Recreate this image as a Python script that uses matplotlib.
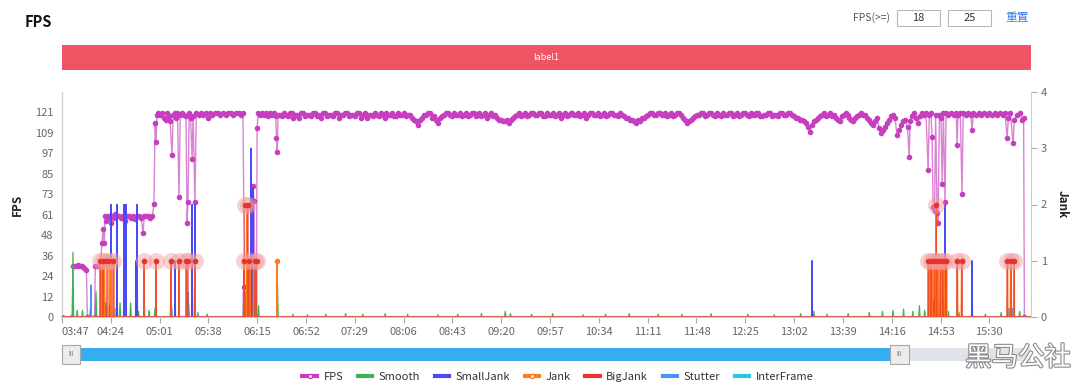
import matplotlib
matplotlib.use("Agg")
import matplotlib.pyplot as plt
import matplotlib.patheffects as pe
from matplotlib.lines import Line2D
from matplotlib.patches import Rectangle

plt.rcParams['font.family'] = ['Noto Sans CJK SC', 'DejaVu Sans']

# ---- data (x = minutes since 03:47) ----
T_END = 734.6
time_labels = ['03:47', '04:24', '05:01', '05:38', '06:15', '06:52', '07:29', '08:06',
               '08:43', '09:20', '09:57', '10:34', '11:11', '11:48', '12:25', '13:02',
               '13:39', '14:16', '14:53', '15:30']
time_ticks = [37 * i for i in range(len(time_labels))]

fps_tick_labels = ['0', '12', '24', '36', '48', '61', '73', '85', '97', '109', '121']
FPS_MAX = 133.5

fps_early_t = [0, 7.8, 8.3, 9.5, 11, 12.5, 14, 15.5, 17, 18.5, 19.3, 24.7, 25.2, 26.5, 27.8, 29,
               30.3, 31.2, 32, 32.8, 33.6, 34.5, 35.5, 36.5, 37.5, 38.5, 39.5, 40.5, 42, 43.5,
               45, 46.5, 48, 49.5, 51, 52.5, 54, 55.5, 57, 58.5, 60, 61.4, 62.5, 64, 65.5, 67,
               68.5, 69.7, 70.6, 71.3, 72, 73, 74.5, 76, 77.5, 78.5, 79.5, 81, 82, 83.4, 84.3,
               85.5, 86.7, 87.5, 88.7, 89.6, 91, 92.5, 94, 94.8, 95.5, 96.4, 97.5, 98.6, 99.4,
               100.8, 101.8, 103.5, 105, 107, 109, 110.5, 112, 114, 116, 118, 120, 122, 124,
               126, 128, 130, 132, 134, 136, 137.2, 138.3, 139.3, 144.2, 144.8, 145.6, 146.4,
               147.4, 147.9, 148.7, 150, 151.5, 153, 154.5, 156, 157.5, 159, 160.5, 162, 162.6,
               163.2, 163.8]
fps_early_v = [0, 0, 30, 30, 30, 31, 30, 30, 29, 28, 0, 0, 30, 30, 30, 30,
               44, 52, 44, 60, 57, 60, 59, 60, 56, 60, 59, 61, 60, 60,
               59, 60, 57, 60, 60, 59, 60, 58, 60, 60, 59, 50, 60, 60, 60, 59,
               60, 67, 115, 104, 120, 121, 120, 121, 118, 117, 121, 119, 116, 96, 120,
               121, 118, 121, 71, 120, 121, 120, 119, 56, 68, 121, 118, 94, 119,
               68, 121, 120, 121, 120, 121, 118, 121, 120, 121, 121, 120, 121, 120,
               121, 121, 120, 121, 121, 120, 121, 18, 0, 0, 78, 69, 0,
               0, 112, 121, 120, 121, 120, 121, 119, 121, 120, 121, 119, 106,
               98, 120]

# steady part, two interleaved sample sets
fps_mid_t = list(range(165, 640, 3))
fps_mid_v = [120, 121, 119, 121, 120, 118, 121, 120, 119, 121, 120, 121, 119, 120, 121, 118,
             120, 121, 120, 119, 121, 120, 118, 120, 121, 119, 120, 121, 120, 119, 121, 120,
             119, 120, 117, 114, 118, 120, 121, 119, 115, 119, 121, 120, 121, 120, 119, 121,
             120, 121, 120, 119, 121, 120, 119, 118, 117, 116, 115, 118, 120, 119, 121, 120,
             121, 120, 121, 119, 120, 121, 120, 118, 121, 120, 121, 120, 119, 121, 120, 121,
             120, 119, 121, 120, 121, 120, 121, 119, 118, 117, 115, 116, 118, 120, 121, 120,
             121, 120, 119, 121, 120, 121, 118, 115, 117, 119, 120, 121, 120, 121, 119, 120,
             121, 120, 121, 120, 119, 121, 120, 121, 120, 121, 119, 120, 121, 120, 119, 121,
             120, 121, 119, 118, 117, 115, 110, 116, 118, 120, 119, 121, 120, 117, 119, 121,
             118, 116, 119, 121, 120, 117, 114, 118, 109, 113, 117, 120, 108, 114, 117]
fps_mid2_t = [166.5 + 3 * i for i in range(158)]
fps_mid2_v = [119, 120, 121, 118, 120, 121, 119, 120, 121, 119, 118, 121, 120, 119, 121, 120,
              121, 119, 120, 121, 118, 121, 120, 119, 120, 121, 118, 120, 121, 119, 120, 121,
              120, 118, 116, 117, 120, 121, 118, 117, 118, 120, 121, 119, 120, 121, 120, 119,
              121, 119, 121, 120, 118, 121, 120, 117, 116, 117, 117, 119, 121, 120, 119, 121,
              120, 121, 119, 121, 120, 119, 121, 120, 119, 121, 120, 121, 120, 118, 121, 120,
              121, 120, 119, 121, 120, 119, 120, 118, 117, 116, 117, 118, 119, 121, 120, 121,
              120, 121, 120, 119, 121, 120, 117, 116, 118, 120, 121, 119, 121, 120, 121, 119,
              120, 121, 119, 121, 120, 121, 119, 120, 121, 119, 120, 121, 119, 120, 121, 120,
              121, 120, 118, 117, 116, 113, 114, 117, 119, 121, 120, 119, 118, 116, 120, 120,
              117, 118, 120, 120, 118, 115, 116, 112, 111, 115, 119, 118, 111, 116]

fps_late_t = [641, 642.2, 643, 644.5, 646, 647.5, 649, 650.5, 652, 653.5, 655, 656.6, 657.5,
              658.8, 659.6, 660.4, 661.5, 662.3, 663.4, 664.1, 665.2, 666.4, 667.2, 668.2,
              669.4, 670.2, 672, 674, 676, 678, 678.5, 679.3, 681, 682.3, 683.2, 685, 687,
              689, 689.9, 691, 693, 695, 697, 699, 701, 703, 705, 707, 709, 711, 713, 715,
              716.5, 717.5, 719, 721, 722, 724, 726, 727.8, 729, 729.6]
fps_late_v = [113, 95, 116, 119, 121, 118, 115, 119, 121, 120, 121, 87, 120,
              121, 107, 65, 63, 120, 62, 56, 120, 118, 79, 121,
              68, 121, 120, 121, 120, 121, 102, 120, 121, 73, 121, 120, 121,
              120, 111, 121, 120, 121, 120, 121, 120, 121, 120, 121, 120, 121, 120, 121,
              106, 118, 121, 103, 117, 120, 121, 117, 118, 0]

smooth_t = [8.3, 11.5, 15.5, 21.5, 25.8, 30, 34, 44, 52, 58, 66, 70.5, 83, 96, 103, 110,
            138.8, 140.5, 146.8, 149, 163.4, 175, 186, 200, 215, 228, 245, 262, 285, 300,
            318, 336, 340, 356, 372, 395, 412, 430, 452, 470, 492, 520, 540, 560, 570, 580,
            596, 612, 622, 630, 638, 645, 650, 654, 658, 662, 668, 672, 680, 690, 700, 712,
            718, 726]
smooth_v = [1.15, 0.12, 0.12, 0.15, 0.45, 0.2, 0.2, 0.25, 0.25, 0.1, 0.12, 0.15, 0.2, 0.25,
            0.08, 0.05, 0.45, 0.5, 0.3, 0.2, 0.57, 0.05, 0.04, 0.05, 0.06, 0.05, 0.06, 0.05,
            0.04, 0.05, 0.06, 0.1, 0.06, 0.05, 0.06, 0.04, 0.05, 0.06, 0.05, 0.05, 0.06, 0.05,
            0.04, 0.06, 0.1, 0.05, 0.06, 0.08, 0.1, 0.12, 0.14, 0.1, 0.2, 0.12, 0.3, 0.35,
            0.3, 0.1, 0.08, 0.06, 0.05, 0.08, 0.15, 0.1]

small_t = [30.3, 31.8, 37.1, 41.7, 47.0, 48.5, 56.1, 56.9, 82.6, 85.7, 98.6, 100.8,
           142.6, 143.3, 144.8, 568.6, 660.0, 666.8, 669.4, 689.9]
small_v = [1, 1, 2, 2, 2, 2, 1, 2, 1, 1, 2, 2, 1, 3, 2.3, 1, 0.3, 0.5, 2, 1]

jank_t = [29.3, 30.5, 32.0, 34.6, 37.0, 39.2, 62.2, 71.3, 82.6, 88.7, 94.5, 100.8, 138.0,
          140.4, 141.4, 142.5, 145.2, 146.8, 163.0, 656.9, 657.9, 659.5, 661.5, 662.5,
          664.4, 666.2, 667.4, 669.0, 670.6, 678.8, 682.0, 716.8, 719.2, 721.6]
jank_v = [1, 1, 1, 1, 1, 1, 1, 1, 1, 1, 1, 1, 1,
          2, 1, 1, 1, 1, 1, 1, 1, 1, 1, 2,
          1, 1, 1, 1, 1, 1, 1, 1, 1, 1]

big_t = [28.8, 31.1, 33.6, 36.0, 38.5, 62.2, 71.3, 82.6, 88.7, 94.0, 95.5, 100.8, 137.6,
         138.4, 141.0, 141.7, 146.3, 147.6, 656.6, 658.8, 661.1, 662.9, 663.6, 665.7, 667.9,
         670.2, 678.5, 682.3, 716.5, 719.5, 722.0]
big_v = [1, 1, 1, 1, 1, 1, 1, 1, 1, 1, 1, 1, 1,
         2, 2, 1, 1, 1, 1, 1, 1, 2, 1, 1, 1,
         1, 1, 1, 1, 1, 1]

stutter_t = [22.0, 30.0, 33.0, 36.5, 40.0, 56.0, 62.4, 83.0, 95.5, 98.6, 137.6, 139.0,
             141.0, 657.5, 660.5, 663.0, 666.0, 669.0, 717.0, 720.5]
stutter_v = [0.57, 0.3, 0.25, 0.2, 0.15, 0.2, 0.1, 0.2, 0.44, 0.43, 0.45, 0.3,
             0.2, 0.25, 0.3, 0.22, 0.28, 0.2, 0.15, 0.15]

interframe_t = [0, T_END]
interframe_v = [0, 0]

zoom_start, zoom_end = 0, 634


def spikes(ts, vs, w=0.3):
    xs, ys = [0], [0]
    for t, v in zip(ts, vs):
        xs += [t - w, t, t + w]
        ys += [0, v, 0]
    xs.append(T_END)
    ys.append(0)
    return xs, ys


fps_pts = sorted(zip(fps_early_t + fps_mid_t + fps_mid2_t + fps_late_t,
                     fps_early_v + fps_mid_v + fps_mid2_v + fps_late_v))
fps_t = [p[0] for p in fps_pts]
fps_v = [p[1] for p in fps_pts]

# colours
c_fps = '#c63fbf'
c_smooth = '#3fb34f'
c_small = '#4b4bf5'
c_jank = '#ff7a1f'
c_big = '#e8322e'
c_stutter = '#4f8ff7'
c_inter = '#2bc8e0'
grey = '#666666'

W, H = 1080, 390
fig = plt.figure(figsize=(W / 100, H / 100), dpi=100)


def fx(px):
    return px / W


def fy(py):
    return 1 - py / H


# header
fig.text(fx(25), fy(22), 'FPS', fontsize=10.5, fontweight='bold', color='#111', va='center')
fig.text(fx(890), fy(18), 'FPS(>=)', fontsize=7.5, color='#555', ha='right', va='center')
for x0, val in [(897, '18'), (948, '25')]:
    fig.patches.append(Rectangle((fx(x0), fy(26)), fx(43), 16 / H, transform=fig.transFigure,
                                 facecolor='white', edgecolor='#b8b8b8', lw=0.8))
    fig.text(fx(x0 + 21.5), fy(18), val, fontsize=8, color='#333', ha='center', va='center')
fig.text(fx(1005), fy(18), '重置', fontsize=8.5, color='#3b7cf5', va='center')

fig.patches.append(Rectangle((fx(62), fy(70)), fx(969), 25 / H, transform=fig.transFigure,
                             facecolor='#ed5565', edgecolor='none'))
fig.text(fx(546), fy(57.5), 'label1', fontsize=6.5, color='white', ha='center', va='center')

# main chart
ax = fig.add_axes([fx(62), fy(317), fx(969), 225 / H])
ax2 = ax.twinx()

ax.plot(fps_t, fps_v, color='#d983d3', lw=1.0, marker='o', ms=3.0, mfc=c_fps, mec=c_fps,
        zorder=3)
ax.set_xlim(0, T_END)
ax.set_ylim(0, FPS_MAX)
ax.set_yticks([FPS_MAX / 11 * i for i in range(len(fps_tick_labels))])
ax.set_yticklabels(fps_tick_labels)
ax.set_ylabel('FPS', fontsize=8.5, fontweight='bold', color='#222', labelpad=8)
ax.set_xticks(time_ticks)
ax.set_xticklabels(time_labels)
ax.get_xticklabels()[0].set_horizontalalignment('left')
ax.tick_params(axis='y', length=0, labelsize=8, colors=grey, pad=6)
ax.tick_params(axis='x', length=4, labelsize=8, colors=grey, pad=3, color='#aaaaaa')

ax2.plot(interframe_t, interframe_v, color=c_inter, lw=2.2, zorder=1)
xs, ys = spikes(smooth_t, smooth_v, 0.5)
ax2.plot(xs, ys, color=c_smooth, lw=0.9, zorder=2)
xs, ys = spikes(stutter_t, stutter_v)
ax2.plot(xs, ys, color=c_stutter, lw=0.9, zorder=3)
xs, ys = spikes(small_t, small_v)
ax2.plot(xs, ys, color=c_small, lw=1.0, zorder=4)
xs, ys = spikes(jank_t, jank_v)
ax2.plot(xs, ys, color=c_jank, lw=1.0, zorder=5)
ax2.plot(jank_t, jank_v, 'o', color=c_jank, ms=3, zorder=5)
xs, ys = spikes(big_t, big_v)
ax2.plot(xs, ys, color=c_big, lw=0.7, alpha=0.6, zorder=6)
ax2.scatter(big_t, big_v, s=150, color='#f19a9a', alpha=0.45, lw=0, zorder=7)
ax2.scatter(big_t, big_v, s=16, color=c_big, lw=0, zorder=8)
ax2.set_ylim(0, 4)
ax2.set_yticks(range(5))
ax2.set_ylabel('Jank', fontsize=8.5, fontweight='bold', color='#222', rotation=270,
               labelpad=16)
ax2.tick_params(axis='y', length=4, labelsize=8, colors=grey, color='#aaaaaa', pad=3)

for a in (ax, ax2):
    a.spines['top'].set_visible(False)
    a.spines['left'].set_color('#cccccc')
    a.spines['right'].set_color('#cccccc')
    a.spines['bottom'].set_color('#b5d3ea')
    a.spines['bottom'].set_linewidth(1.5)
ax.spines['right'].set_visible(False)

# data zoom slider
sl = fig.add_axes([fx(62), fy(361), fx(969), 13 / H])
sl.set_xlim(0, T_END)
sl.set_ylim(0, 1)
sl.axis('off')
sl.axvspan(zoom_start, zoom_end, color='#36adf0', lw=0)
sl.axvspan(zoom_end, T_END, color='#e1e3ea', lw=0)
for hx in (zoom_start, zoom_end - 6):
    sl.add_patch(Rectangle((hx, -0.2), 14, 1.4, facecolor='#ececec', edgecolor='#a8a8a8',
                           lw=0.8, clip_on=False, zorder=5))
    sl.text(hx + 7, 0.5, 'III', fontsize=4.5, color='#777', ha='center', va='center',
            zorder=6)

# legend
handles = [
    Line2D([], [], color=c_fps, lw=3, marker='o', ms=3, mfc='white', mec=c_fps),
    Line2D([], [], color=c_smooth, lw=3),
    Line2D([], [], color=c_small, lw=3),
    Line2D([], [], color=c_jank, lw=3, marker='o', ms=3, mfc='white', mec=c_jank),
    Line2D([], [], color=c_big, lw=3),
    Line2D([], [], color=c_stutter, lw=3),
    Line2D([], [], color=c_inter, lw=3),
]
names = ['FPS', 'Smooth', 'SmallJank', 'Jank', 'BigJank', 'Stutter', 'InterFrame']
leg = fig.legend(handles, names, loc='center', bbox_to_anchor=(fx(558), fy(377)), ncol=7,
                 frameon=False, fontsize=8, handlelength=1.3, handletextpad=0.6,
                 columnspacing=1.3)
for t in leg.get_texts():
    t.set_color('#333')

# watermark
fig.text(fx(1018), fy(358), '黑马公社', fontsize=19, color='white', ha='center',
         va='center', path_effects=[pe.withStroke(linewidth=1.6, foreground='#8a8a8a')])

fig.savefig('out.png', dpi=100)
